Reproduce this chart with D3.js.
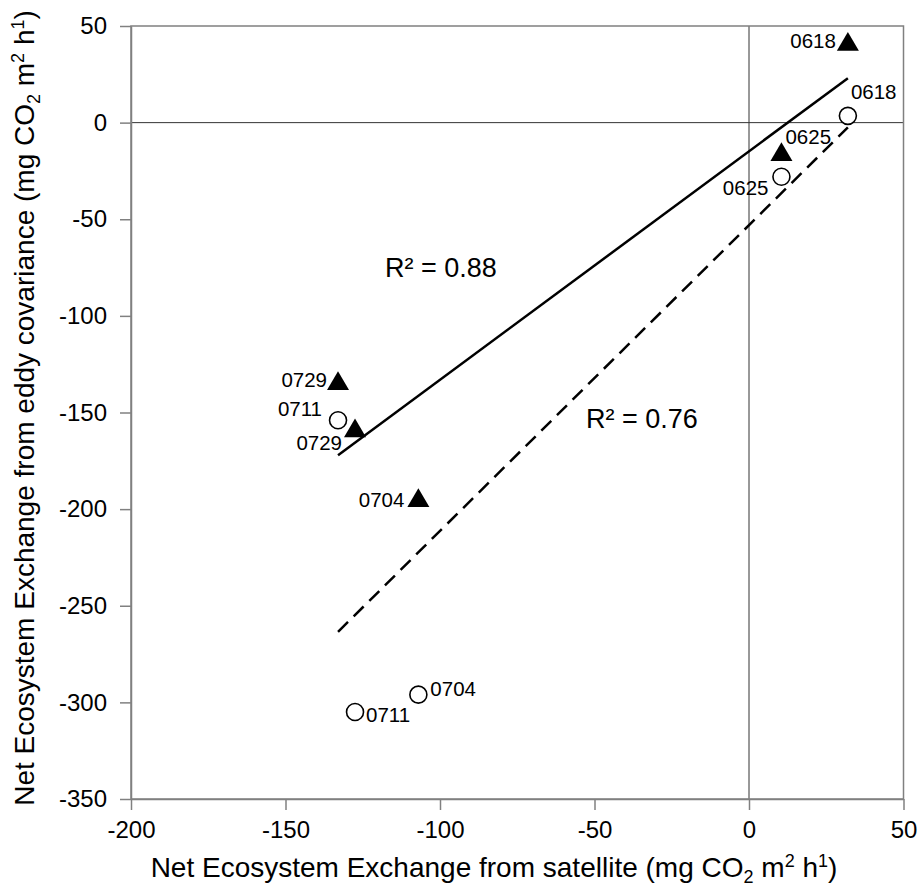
<!DOCTYPE html>
<html>
<head>
<meta charset="utf-8">
<script src="https://cdn.jsdelivr.net/npm/d3@7"></script>
<style>
  body { margin: 0; background: #fff; }
  text { font-family: Arial, "Liberation Sans", sans-serif; fill: #000; }
</style>
</head>
<body>
<svg id="chart" width="921" height="889"></svg>
<script>
// satellite NEE per date (x), eddy covariance NEE for the two series (y)
const satellite = [32, 10.5, -107, -127.5, -133]
const eddyTri = [42, -15, -194, -158, -133.5]
const eddyCirc = [3.5, -28, -296, -305, -154]
const labelsTri = ['0618', '0625', '0704', '0729', '0729']
const labelsCirc = ['0618', '0625', '0704', '0711', '0711']
const xTicks = [-200, -150, -100, -50, 0, 50]
const yTicks = [-350, -300, -250, -200, -150, -100, -50, 0, 50]

// label placement (pixels from the marker), anchor
const offTri = [[-12, 7, 'end'], [4, -8, 'start'], [-14, 9, 'end'], [-13, 22, 'end'], [-11, 6, 'end']]
const offCirc = [[3, -17, 'start'], [-13, 18, 'end'], [12, 1, 'start'], [11, 10, 'start'], [-16, -4, 'end']]

const margin = { top: 26, left: 131, right: 17.5, bottom: 90 }
const width = 921 - margin.left - margin.right
const height = 889 - margin.top - margin.bottom

const svg = d3.select('#chart')
const g = svg.append('g').attr('transform', `translate(${margin.left}, ${margin.top})`)

const x = d3.scaleLinear().domain([-200, 50]).range([0, width])
const y = d3.scaleLinear().domain([-350, 50]).range([height, 0])

// zero lines
g.append('line').attr('x1', x(0)).attr('x2', x(0)).attr('y1', 0).attr('y2', height)
    .attr('stroke', '#333').attr('stroke-width', 1)
g.append('line').attr('x1', 0).attr('x2', width).attr('y1', y(0)).attr('y2', y(0))
    .attr('stroke', '#333').attr('stroke-width', 1)

// frame
g.append('rect').attr('width', width).attr('height', height)
    .attr('fill', 'none').attr('stroke', '#808080').attr('stroke-width', 1.5)

const xAxis = d3.axisBottom(x).tickValues(xTicks).tickSize(11).tickPadding(11).tickSizeOuter(0)
    .tickFormat(d => String(d))
const yAxis = d3.axisLeft(y).tickValues(yTicks).tickSize(11).tickPadding(13).tickSizeOuter(0)
    .tickFormat(d => String(d))

g.append('g').attr('transform', `translate(0, ${height})`).call(xAxis)
g.append('g').call(yAxis)

g.selectAll('.tick text').attr('font-size', '24px').attr('font-family', 'Arial, "Liberation Sans", sans-serif')
g.selectAll('.tick line').attr('stroke', '#808080').attr('stroke-width', 1.5)
g.selectAll('.domain').attr('stroke', '#808080').attr('stroke-width', 1.5)

// regression lines
function fit(xs, ys) {
    const mx = d3.mean(xs), my = d3.mean(ys)
    let sxy = 0, sxx = 0, syy = 0
    xs.forEach((v, i) => {
        sxy += (v - mx) * (ys[i] - my)
        sxx += (v - mx) ** 2
        syy += (ys[i] - my) ** 2
    })
    const slope = sxy / sxx
    return { slope, icpt: my - slope * mx, r2: sxy * sxy / (sxx * syy) }
}
const fitTri = fit(satellite, eddyTri)
const fitCirc = fit(satellite, eddyCirc)
const [xmin, xmax] = d3.extent(satellite)

const line = d3.line().x(d => x(d[0])).y(d => y(d[1]))
g.append('path')
    .datum([xmin, xmax].map(v => [v, fitTri.icpt + fitTri.slope * v]))
    .attr('fill', 'none').attr('stroke', '#000').attr('stroke-width', 2.5)
    .attr('d', line)
g.append('path')
    .datum([xmin, xmax].map(v => [v, fitCirc.icpt + fitCirc.slope * v]))
    .attr('fill', 'none').attr('stroke', '#000').attr('stroke-width', 2.5)
    .attr('stroke-dasharray', '14,8')
    .attr('d', line)

// triangle centred on its bounding box
const tri = {
    draw(ctx, size) {
        const w = Math.sqrt(size * 4 / Math.sqrt(3))
        const h = w * 0.85
        ctx.moveTo(0, -h / 2)
        ctx.lineTo(w / 2, h / 2)
        ctx.lineTo(-w / 2, h / 2)
        ctx.closePath()
    }
}

g.selectAll('.circ').data(satellite).join('circle')
    .attr('class', 'circ')
    .attr('cx', d => x(d)).attr('cy', (d, i) => y(eddyCirc[i]))
    .attr('r', 8.5).attr('fill', '#fff').attr('stroke', '#000').attr('stroke-width', 1.6)

g.selectAll('.tri').data(satellite).join('path')
    .attr('class', 'tri')
    .attr('transform', (d, i) => `translate(${x(d)}, ${y(eddyTri[i])})`)
    .attr('d', d3.symbol().type(tri).size(210))
    .attr('fill', '#000')

// point labels
function labels(ys, names, offs, cls) {
    g.selectAll('.' + cls).data(satellite).join('text')
        .attr('class', cls)
        .attr('x', (d, i) => x(d) + offs[i][0])
        .attr('y', (d, i) => y(ys[i]) + offs[i][1])
        .attr('text-anchor', (d, i) => offs[i][2])
        .attr('font-size', '20.5px')
        .text((d, i) => names[i])
}
labels(eddyTri, labelsTri, offTri, 'ltri')
labels(eddyCirc, labelsCirc, offCirc, 'lcirc')

// R² annotations
svg.append('text').attr('x', 385).attr('y', 277).attr('font-size', '27px')
    .text(`R² = ${fitTri.r2.toFixed(2)}`)
svg.append('text').attr('x', 586).attr('y', 428).attr('font-size', '27px')
    .text(`R² = ${fitCirc.r2.toFixed(2)}`)

// axis titles
function unitTitle(sel, label) {
    sel.append('tspan').text(label + ' (mg CO')
    sel.append('tspan').attr('font-size', '18px').attr('dy', 6).text('2')
    sel.append('tspan').attr('dy', -6).text(' m')
    sel.append('tspan').attr('font-size', '18px').attr('dy', -10).text('2')
    sel.append('tspan').attr('dy', 10).text(' h')
    sel.append('tspan').attr('font-size', '18px').attr('dy', -10).text('1')
    sel.append('tspan').attr('dy', 10).text(')')
}
unitTitle(svg.append('text').attr('x', 494).attr('y', 877)
    .attr('text-anchor', 'middle').attr('font-size', '28px'),
    'Net Ecosystem Exchange from satellite')
unitTitle(svg.append('text')
    .attr('transform', 'translate(34, 408) rotate(-90)')
    .attr('text-anchor', 'middle').attr('font-size', '28px'),
    'Net Ecosystem Exchange from eddy covariance')
</script>
</body>
</html>
